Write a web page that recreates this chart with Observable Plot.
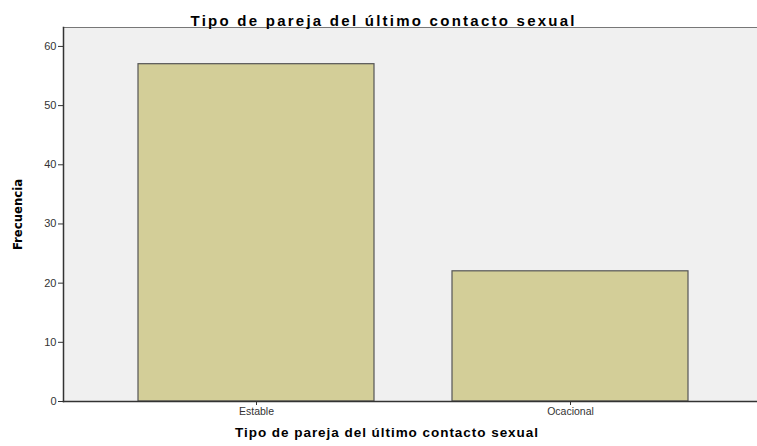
<!DOCTYPE html>
<html><head><meta charset="utf-8">
<script src="https://cdn.jsdelivr.net/npm/d3@7"></script>
<script src="https://cdn.jsdelivr.net/npm/@observablehq/plot@0.6"></script>
<style>body{margin:0;background:#fff}</style>
</head><body><div id="chart"></div>
<script>
const categories = ["Estable", "Ocacional"];
const frecuencias = [57, 22];
const yTicks = [0, 10, 20, 30, 40, 50, 60];
const title = "Tipo de pareja del último contacto sexual";
const xLabel = "Tipo de pareja del último contacto sexual";
const yLabel = "Frecuencia";

const data = categories.map((c, i) => ({cat: c, n: frecuencias[i]}));

const chart = Plot.plot({
  width: 757, height: 446,
  marginTop: 27, marginBottom: 45, marginLeft: 63, marginRight: 0,
  style: {fontFamily: "'Liberation Sans', Arial, sans-serif", background: "#fff"},
  x: {domain: categories, paddingInner: 0.2476, paddingOuter: 0.2254, align: 0.521, label: null},
  y: {domain: [0, 63.2], label: null},
  marks: [
    Plot.frame({fill: "#f0f0f0", stroke: null}),
    Plot.barY(data, {x: "cat", y: "n", fill: "#d3ce98", stroke: "#555", strokeWidth: 1.2}),
    Plot.frame({anchor: "top", stroke: "#777", strokeWidth: 1.2}),
    Plot.axisY({ticks: yTicks, tickSize: 5, tickPadding: 2, fontSize: 11, color: "#333", stroke: "#333", label: null}),
    Plot.axisX({tickSize: 4, tickPadding: 2, fontSize: 10.5, color: "#333", stroke: "#333", label: null}),
    Plot.frame({anchor: "left", stroke: "#333", strokeWidth: 1.5}),
    Plot.frame({anchor: "bottom", stroke: "#333", strokeWidth: 1.5}),
    Plot.text([title], {frameAnchor: "top", dx: -28, dy: -12, text: d => d, fontSize: 15, fontWeight: "bold", fill: "#000"}),
    Plot.text([xLabel], {frameAnchor: "bottom", dx: -24, dy: 35, text: d => d, fontSize: 13.5, fontWeight: "bold", fill: "#000"}),
    Plot.text([yLabel], {frameAnchor: "left", textAnchor: "middle", dx: -46, rotate: -90, text: d => d, fontSize: 13, fontWeight: "bold", fill: "#000", fontFamily: "'Liberation Sans Narrow', 'DejaVu Sans Condensed', sans-serif"})
  ]
});
const longTexts = Array.from(chart.querySelectorAll("text")).filter(t => t.textContent === title);
if (longTexts[0]) { longTexts[0].setAttribute("textLength", "384"); longTexts[0].setAttribute("lengthAdjust", "spacing"); }
if (longTexts[1]) { longTexts[1].setAttribute("textLength", "303"); longTexts[1].setAttribute("lengthAdjust", "spacing"); }
document.getElementById("chart").append(chart);
</script></body></html>
